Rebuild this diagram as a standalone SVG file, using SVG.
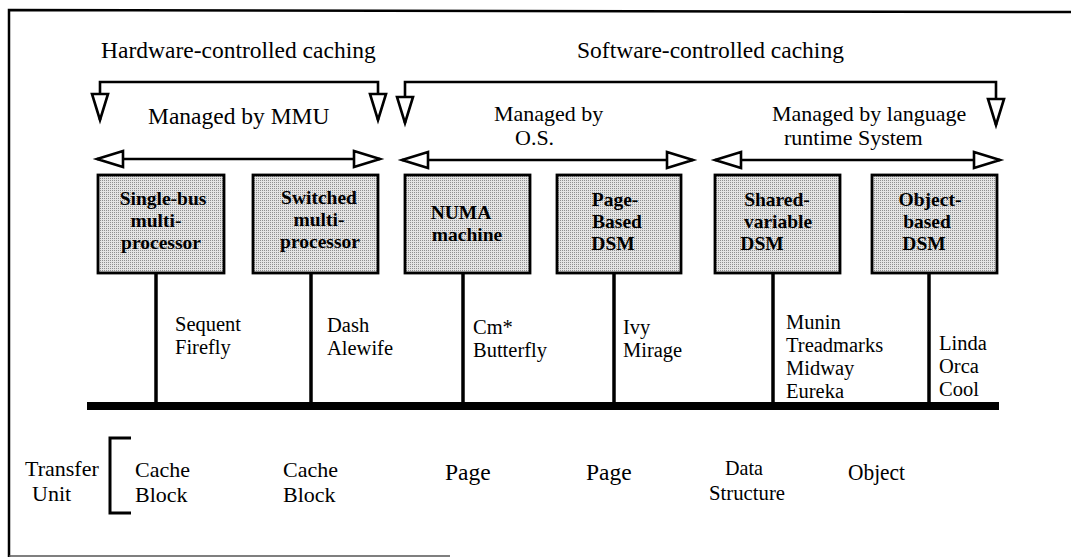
<svg xmlns="http://www.w3.org/2000/svg" width="1071" height="558" viewBox="0 0 1071 558">
<style>
text{font-family:"Liberation Serif","Times New Roman",serif;fill:#000}
.t{font-size:23.5px}
.u{font-size:22px}
.e{font-size:20.5px}
.b{font-size:19.5px;font-weight:bold;text-anchor:middle}
.box{fill:url(#dots);stroke:#000;stroke-width:2.8}
.ln{fill:none;stroke:#000;stroke-width:2.6}
.stem{stroke:#000;stroke-width:3.5}
</style>
<defs>
<pattern id="dots" width="2" height="2" patternUnits="userSpaceOnUse">
<rect width="2" height="2" fill="#e4e4e4"/>
<rect width="1" height="1" fill="#8f8f8f"/>
</pattern>
<marker id="oa" viewBox="-3 -3 33 22" refX="26" refY="8" markerWidth="33" markerHeight="22" markerUnits="userSpaceOnUse" orient="auto-start-reverse" overflow="visible">
<path d="M0,0 L26,8 L0,16 Z" fill="#fff" stroke="#000" stroke-width="2.6" stroke-linejoin="miter"/>
</marker>
</defs>
<rect width="1071" height="558" fill="#fff"/>
<g id="frame">
<path d="M9,557 V10 L1071,12" fill="none" stroke="#000" stroke-width="2.5"/>
<path d="M9,556 H450" fill="none" stroke="#555" stroke-width="1.5"/>
</g>
<g id="labels-top">
<text class="t" x="101" y="58">Hardware-controlled caching</text>
<text class="t" x="577" y="58">Software-controlled caching</text>
<text class="t" x="148" y="124">Managed by MMU</text>
<text class="u" x="494" y="121">Managed by</text>
<text class="u" x="515" y="145">O.S.</text>
<text class="u" x="772" y="121">Managed by language</text>
<text class="u" x="784" y="145">runtime System</text>
</g>
<g id="connectors">
<path class="ln" d="M100,120 V82 H378 V120" marker-start="url(#oa)" marker-end="url(#oa)"/>
<path class="ln" d="M405,123 V82 H996 V125" marker-start="url(#oa)" marker-end="url(#oa)"/>
<line class="ln" x1="97" y1="159" x2="380" y2="159" marker-start="url(#oa)" marker-end="url(#oa)"/>
<line class="ln" x1="402" y1="160" x2="693" y2="160" marker-start="url(#oa)" marker-end="url(#oa)"/>
<line class="ln" x1="715" y1="160" x2="1000" y2="160" marker-start="url(#oa)" marker-end="url(#oa)"/>
<line class="stem" x1="156" y1="273" x2="156" y2="403"/>
<line class="stem" x1="311" y1="273" x2="311" y2="403"/>
<line class="stem" x1="463" y1="273" x2="463" y2="403"/>
<line class="stem" x1="614" y1="273" x2="614" y2="403"/>
<line class="stem" x1="773" y1="273" x2="773" y2="403"/>
<line class="stem" x1="929" y1="273" x2="929" y2="403"/>
<path d="M131,438 H110 V513 H131" fill="none" stroke="#000" stroke-width="3"/>
</g>
<g id="bus"><rect x="87" y="402" width="912" height="8" fill="#000"/></g>
<g id="n-singlebus">
<rect class="box" x="98" y="175" width="126" height="98"/>
<text class="b" x="163" y="205">Single-bus</text>
<text class="b" x="156" y="227">multi-</text>
<text class="b" x="161" y="249">processor</text>
</g>
<g id="n-switched">
<rect class="box" x="253" y="175" width="125" height="98"/>
<text class="b" x="319" y="204">Switched</text>
<text class="b" x="319" y="226">multi-</text>
<text class="b" x="320" y="248">processor</text>
</g>
<g id="n-numa">
<rect class="box" x="405" y="175" width="125" height="98"/>
<text class="b" x="461" y="219">NUMA</text>
<text class="b" x="467" y="241">machine</text>
</g>
<g id="n-page">
<rect class="box" x="557" y="175" width="124" height="98"/>
<text class="b" x="615" y="206">Page-</text>
<text class="b" x="617" y="228">Based</text>
<text class="b" x="613" y="250">DSM</text>
</g>
<g id="n-shared">
<rect class="box" x="715" y="175" width="125" height="98"/>
<text class="b" x="777" y="206">Shared-</text>
<text class="b" x="778" y="228">variable</text>
<text class="b" x="762" y="250">DSM</text>
</g>
<g id="n-object">
<rect class="box" x="872" y="175" width="125" height="98"/>
<text class="b" x="930" y="206">Object-</text>
<text class="b" x="927" y="228">based</text>
<text class="b" x="924" y="250">DSM</text>
</g>
<g id="examples">
<text class="e" x="175" y="331">Sequent</text>
<text class="e" x="175" y="354">Firefly</text>
<text class="e" x="327" y="332">Dash</text>
<text class="e" x="327" y="355">Alewife</text>
<text class="e" x="473" y="334">Cm*</text>
<text class="e" x="473" y="357">Butterfly</text>
<text class="e" x="623" y="334">Ivy</text>
<text class="e" x="623" y="357">Mirage</text>
<text class="e" x="786" y="329">Munin</text>
<text class="e" x="786" y="352">Treadmarks</text>
<text class="e" x="786" y="375">Midway</text>
<text class="e" x="786" y="398">Eureka</text>
<text class="e" x="939" y="350">Linda</text>
<text class="e" x="939" y="373">Orca</text>
<text class="e" x="939" y="396">Cool</text>
</g>
<g id="transfer-unit">
<text class="u" x="25" y="476">Transfer</text>
<text class="u" x="32" y="501">Unit</text>
<text class="u" x="135" y="477">Cache</text>
<text class="u" x="135" y="502">Block</text>
<text class="u" x="283" y="477">Cache</text>
<text class="u" x="283" y="502">Block</text>
<text class="t" x="445" y="480">Page</text>
<text class="t" x="586" y="480">Page</text>
<text class="u" x="725" y="475" textLength="38" lengthAdjust="spacingAndGlyphs">Data</text>
<text class="u" x="709" y="500" textLength="76" lengthAdjust="spacingAndGlyphs">Structure</text>
<text class="t" x="848" y="480" textLength="57" lengthAdjust="spacingAndGlyphs">Object</text>
</g>
</svg>
